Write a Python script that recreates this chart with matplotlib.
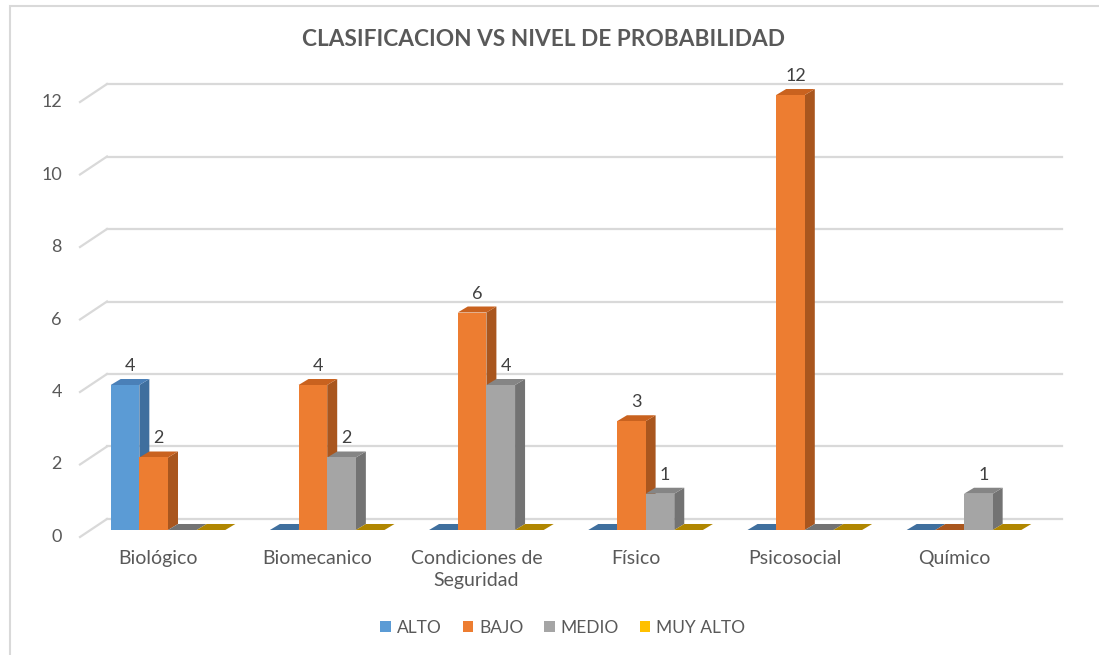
import matplotlib
matplotlib.use('Agg')
import matplotlib.pyplot as plt
from matplotlib.patches import Polygon, Rectangle, Patch

plt.rcParams['font.family'] = ['Lato', 'DejaVu Sans']

categories = ['Biológico', 'Biomecanico', 'Condiciones de\nSeguridad', 'Físico', 'Psicosocial', 'Químico']
series = ['ALTO', 'BAJO', 'MEDIO', 'MUY ALTO']
alto = [4, 0, 0, 0, 0, 0]
bajo = [2, 4, 6, 3, 12, 0]
medio = [0, 2, 4, 1, 0, 1]
muy_alto = [0, 0, 0, 0, 0, 0]
y_ticks = [0, 2, 4, 6, 8, 10, 12]
title = 'CLASIFICACION VS NIVEL DE PROBABILIDAD'

values = [alto, bajo, medio, muy_alto]
front_colors = ['#5B9BD5', '#ED7D31', '#A5A5A5', '#FFC000']
top_colors = ['#4A80B8', '#C9621F', '#858585', '#C99A00']
side_colors = ['#3F6F9E', '#A9561E', '#737373', '#B08600']
text_color = '#595959'
grid_color = '#D9D9D9'

W, H = 1099, 655
fig = plt.figure(figsize=(W / 100, H / 100), dpi=100)
ax_left, ax_right, ax_top, ax_bottom = 80, 1062, 70, 540
ax = fig.add_axes([ax_left / W, 1 - ax_bottom / H, (ax_right - ax_left) / W, (ax_bottom - ax_top) / H])
xlim = (-0.5528, 5.6156)
ylim = (-0.276, 12.69)
ax.set_xlim(*xlim)
ax.set_ylim(*ylim)
ax.axis('off')

px_x = (ax_right - ax_left) / (xlim[1] - xlim[0])
px_y = (ax_bottom - ax_top) / (ylim[1] - ylim[0])
aw = ax_right - ax_left

# gridlines (back wall + left side wall)
ytr = ax.get_yaxis_transform()
wall = 27 / aw
for v in y_ticks:
    yb = v + 11 / px_y
    yf = v - 7 / px_y
    ax.plot([wall, 1.0], [yb, yb], color=grid_color, lw=1.6, transform=ytr, clip_on=False, zorder=1)
    ax.plot([0, wall], [yf, yb], color=grid_color, lw=1.6, transform=ytr, clip_on=False, zorder=1)
    ax.text(-18 / aw, yf, str(v), transform=ytr, ha='right', va='center',
            fontsize=13, color=text_color)

# 3D-style bars
w = 0.18
ddx = 10 / px_x
ddy = 6 / px_y
for i in range(len(categories)):
    for k in range(len(series)):
        val = values[k][i]
        x0 = i + (k - 2) * w
        z = 3 + i * 20 + k * 4
        if val > 0:
            side = [(x0 + w, 0), (x0 + w + ddx, ddy), (x0 + w + ddx, val + ddy), (x0 + w, val)]
            ax.add_patch(Polygon(side, closed=True, fc=side_colors[k], ec='none', zorder=z))
            top = [(x0, val), (x0 + w, val), (x0 + w + ddx, val + ddy), (x0 + ddx, val + ddy)]
            ax.add_patch(Polygon(top, closed=True, fc=top_colors[k], ec='none', zorder=z + 1))
            ax.bar(x0, val, width=w, align='edge', color=front_colors[k], zorder=z + 2)
            ax.text(x0 + w / 2 + 5 / px_x, val + 19 / px_y, str(val), ha='center', va='center',
                    fontsize=13, color='#404040', zorder=200)
        else:
            flat = [(x0, 0), (x0 + w, 0), (x0 + w + ddx, ddy), (x0 + ddx, ddy)]
            ax.add_patch(Polygon(flat, closed=True, fc=side_colors[k], ec='none', zorder=z + 2))

# category labels
for i, c in enumerate(categories):
    ax.text(i - 10 / px_x, -20 / px_y, c, ha='center', va='top', fontsize=14,
            color=text_color, linespacing=1.35, clip_on=False)

fig.text(543 / W, 1 - 40 / H, title, ha='center', va='center', fontsize=16.3,
         fontweight='bold', color=text_color)

handles = [Patch(facecolor=front_colors[k], edgecolor='none', label=series[k]) for k in range(len(series))]
fig.legend(handles=handles, loc='center', bbox_to_anchor=(563 / W, 1 - 628 / H), ncol=4,
           frameon=False, handlelength=0.6, handleheight=0.6, handletextpad=0.35,
           columnspacing=1.2, fontsize=12.5, labelcolor=text_color)

fig.add_artist(Rectangle((10 / W, -0.1), 1.2, (1 - 6 / H) + 0.1, transform=fig.transFigure,
                         fill=False, ec=grid_color, lw=1.5))

fig.savefig('out.png', dpi=100, facecolor='white')
